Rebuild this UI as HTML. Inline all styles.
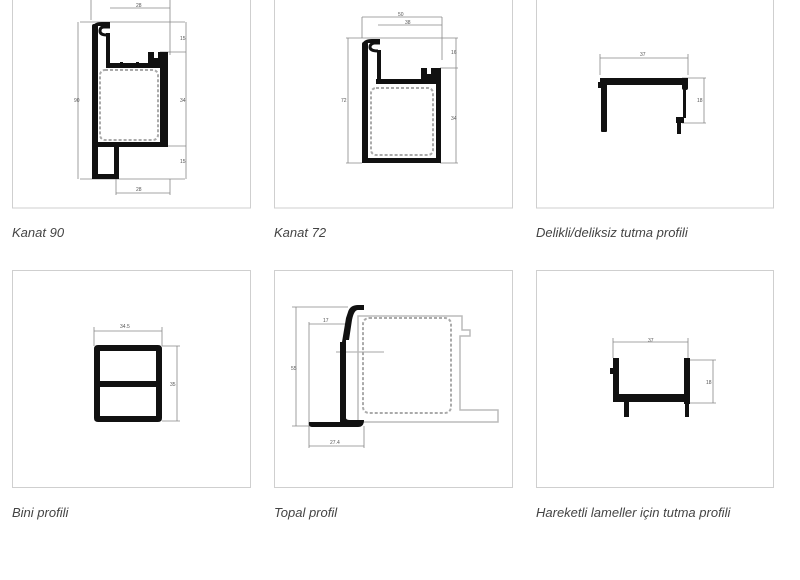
<!DOCTYPE html>
<html><head><meta charset="utf-8"><style>
html,body{margin:0;padding:0;background:#fff;width:800px;height:580px;overflow:hidden}
svg{display:block}
text{font-family:"Liberation Sans",sans-serif}
.cap{font-style:italic;font-size:13px;fill:#444}
.d{stroke:#888;stroke-width:.8;fill:none}
.dt{font-size:5px;fill:#555}
.k{fill:#111}
.ks{fill:none;stroke:#111;stroke-width:3}
.h{fill:none;stroke:#aaa;stroke-width:2;stroke-dasharray:3 2}
</style></head><body>
<svg width="800" height="580" viewBox="0 0 800 580">
<g fill="none" stroke="#cfcfcf" stroke-width="1">
<rect x="12.5" y="-1" width="238" height="209"/>
<rect x="274.5" y="-1" width="238" height="209"/>
<rect x="536.5" y="-1" width="237" height="209"/>
<rect x="12.5" y="270.5" width="238" height="217"/>
<rect x="274.5" y="270.5" width="238" height="217"/>
<rect x="536.5" y="270.5" width="237" height="217"/>
</g>
<text class="cap" x="12" y="237">Kanat 90</text>
<text class="cap" x="274" y="237">Kanat 72</text>
<text class="cap" x="536" y="237">Delikli/deliksiz tutma profili</text>
<text class="cap" x="12" y="517">Bini profili</text>
<text class="cap" x="274" y="517">Topal profil</text>
<text class="cap" x="536" y="517">Hareketli lameller için tutma profili</text>

<!-- Kanat 90 -->
<g>
<path class="d" d="M91 0V20M170 0V55M110 8H170M80 22H185M80 179H185M78 22V179M186 22V179M160 52H186M168 146H186M116 179V195M170 179V195M116 193H170"/>
<text class="dt" x="136" y="7">28</text><text class="dt" x="136" y="191">28</text>
<text class="dt" x="74" y="102">90</text><text class="dt" x="180" y="40">15</text><text class="dt" x="180" y="102">34</text><text class="dt" x="180" y="163">15</text>
<g class="k">
<rect x="92" y="24" width="6" height="155" rx="2"/>
<path d="M92 28Q93 22 102 22H110V26H98Z"/>
<rect x="106" y="33" width="4" height="33"/>
<rect x="106" y="63" width="62" height="5"/>
<path d="M148 52H154V58H158V52H168V146H160V68H148Z"/>
<rect x="92" y="142" width="76" height="5"/>
<rect x="92" y="174" width="27" height="5"/>
<rect x="114" y="146" width="5" height="33"/>
<rect x="120" y="62" width="3" height="4"/><rect x="136" y="62" width="3" height="4"/>
</g>
<path class="ks" d="M110 27H104Q100 27 100 31Q100 35 107 35"/>
<rect x="100" y="70" width="58" height="70" rx="5" class="h"/>
</g>

<!-- Kanat 72 -->
<g>
<path class="d" d="M362 17H442M362 17V38M442 17V60M378 25H442M346 38H362M346 163H362M348 38V163M362 38H458M440 68H458M440 163H458M456 38V163"/>
<text class="dt" x="398" y="16">50</text><text class="dt" x="405" y="24">38</text>
<text class="dt" x="341" y="102">72</text><text class="dt" x="451" y="54">16</text><text class="dt" x="451" y="120">34</text>
<g class="k">
<rect x="362" y="42" width="6" height="121" rx="2"/>
<path d="M362 45Q363 39 372 39H380V43H368Z"/>
<rect x="377" y="50" width="4" height="32"/>
<rect x="376" y="79" width="65" height="5"/>
<path d="M421 68H427V74H431V68H441V163H436V84H421Z"/>
<rect x="362" y="158" width="79" height="5"/>
</g>
<path class="ks" d="M380 43H374Q370 44 370 47Q370 51 378 51"/>
<rect x="371" y="88" width="62" height="67" rx="5" class="h"/>
</g>

<!-- Delikli -->
<g>
<path class="d" d="M600 58H688M600 54V75M688 54V75M682 78H706M682 123H706M704 78V123"/>
<text class="dt" x="640" y="56">37</text><text class="dt" x="697" y="102">18</text>
<g class="k">
<rect x="600" y="78" width="88" height="7"/>
<path d="M598 82H602V88H598Z"/>
<rect x="601" y="80" width="6" height="52" rx="1"/>
<rect x="682" y="78" width="6" height="12" rx="2"/>
<rect x="683" y="85" width="3" height="33"/>
<rect x="676" y="117" width="8" height="6"/>
<rect x="677" y="122" width="4" height="12"/>
</g>
</g>

<!-- Bini -->
<g>
<path class="d" d="M94 331H162M94 327V346M162 327V346M162 346H180M162 421H180M177 346V421"/>
<text class="dt" x="120" y="328">34.5</text><text class="dt" x="170" y="386">35</text>
<path class="k" d="M94 349Q94 345 98 345H158Q162 345 162 349V418Q162 422 158 422H98Q94 422 94 418ZM100 351V381H156V351ZM100 387V416H156V387Z" fill-rule="evenodd"/>
</g>

<!-- Topal -->
<g>
<path class="d" d="M296 307V426M292 307H348M292 426H310M309 322V448M309 324H345M364 426V448M309 446H364M336 352H384"/>
<text class="dt" x="291" y="370">55</text><text class="dt" x="323" y="322">17</text><text class="dt" x="330" y="444">27.4</text>
<g fill="none" stroke="#bbb" stroke-width="1.5">
<path d="M358 316H462V330H470V336H460V410H498V422H358Z"/>
</g>
<rect x="363" y="318" width="88" height="95" rx="6" class="h"/>
<path class="k" d="M348 312Q350 305 358 305H364V310H358Q354 310 352 320L349 340H346V418Q346 420 350 420H364Q364 427 358 427H312Q308 427 309 422H340V342H342L346 318Z"/>
</g>

<!-- Hareketli -->
<g>
<path class="d" d="M613 342H688M613 338V358M688 338V358M690 360H716M690 403H716M713 360V403"/>
<text class="dt" x="648" y="342">37</text><text class="dt" x="706" y="384">18</text>
<g class="k">
<rect x="613" y="358" width="6" height="44"/>
<rect x="610" y="368" width="4" height="6"/>
<rect x="613" y="394" width="77" height="8" rx="2"/>
<rect x="684" y="358" width="6" height="46"/>
<rect x="624" y="400" width="5" height="17"/>
<rect x="685" y="400" width="4" height="17"/>
</g>
</g>
</svg>
</body></html>
